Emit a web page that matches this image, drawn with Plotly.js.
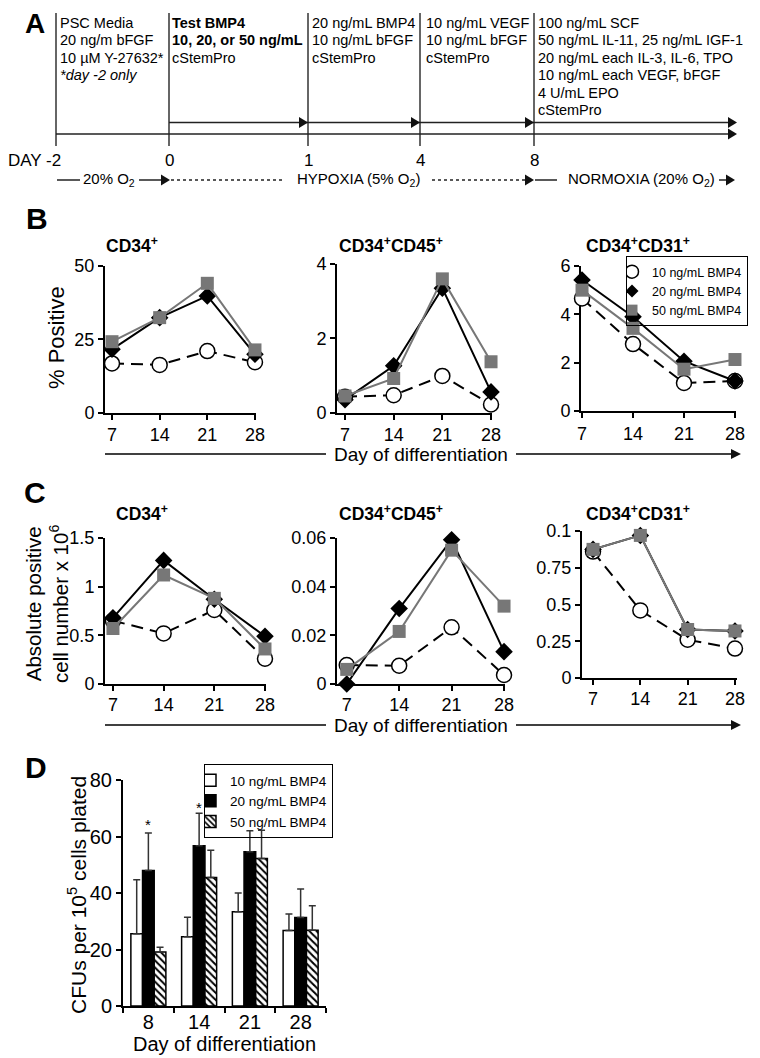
<!DOCTYPE html>
<html><head><meta charset="utf-8">
<script src="https://cdn.plot.ly/plotly-3.0.1.min.js"></script>
<style>html,body{margin:0;padding:0;background:#fff}#chart{width:760px;height:1058px}</style>
</head><body><div id="chart"></div>
<script>
// ---------------- data ----------------
const days = [7, 14, 21, 28];
const seriesNames = ['10 ng/mL BMP4', '20 ng/mL BMP4', '50 ng/mL BMP4'];

// B: % positive
const pctCD34_10 = [16.8, 16.3, 21.0, 17.2];
const pctCD34_20 = [21.6, 32.4, 39.8, 19.9];
const pctCD34_50 = [24.2, 32.4, 44.1, 21.4];
const pctCD45_10 = [0.43, 0.47, 0.99, 0.22];
const pctCD45_20 = [0.35, 1.26, 3.35, 0.56];
const pctCD45_50 = [0.45, 0.92, 3.6, 1.37];
const pctCD31_10 = [4.66, 2.77, 1.16, 1.24];
const pctCD31_20 = [5.42, 3.9, 2.06, 1.24];
const pctCD31_50 = [5.0, 3.42, 1.73, 2.13];

// C: absolute positive cell number x 10^6
const absCD34_10 = [0.65, 0.52, 0.76, 0.26];
const absCD34_20 = [0.68, 1.27, 0.87, 0.49];
const absCD34_50 = [0.57, 1.12, 0.88, 0.36];
const absCD45_10 = [0.0078, 0.0075, 0.0233, 0.0037];
const absCD45_20 = [0.0, 0.031, 0.0593, 0.0133];
const absCD45_50 = [0.006, 0.0216, 0.055, 0.032];
const absCD31_10 = [0.86, 0.46, 0.26, 0.20];
const absCD31_20 = [0.875, 0.97, 0.33, 0.32];
const absCD31_50 = [0.875, 0.97, 0.33, 0.32];
const absCD31TickVals = [0, 0.25, 0.5, 0.75, 1];
const absCD31TickText = ['0', '0.25', '0.5', '0.75', '0.1'];

// D: CFUs per 10^5 cells plated
const cfuDays = ['8', '14', '21', '28'];
const cfu10 = [25.6, 24.5, 33.4, 26.7];
const cfu10Err = [19.1, 6.9, 6.6, 5.9];
const cfu20 = [48.0, 56.7, 54.6, 31.3];
const cfu20Err = [13.2, 11.5, 7.4, 10.1];
const cfu50 = [19.1, 45.5, 52.2, 26.8];
const cfu50Err = [1.7, 9.6, 10.0, 8.7];
const sigDays = ['8', '14'];
const sigY = [65.3, 71.2];

// ---------------- helpers ----------------
const W = 760, H = 1058;
const X = p => p / W, Y = p => 1 - p / H;
const FONT = '"Liberation Sans", Arial, Helvetica, sans-serif';
const GREY = '#777777';

function style10() { return { line: { color: 'black', width: 2, dash: '12px,7px' }, marker: { symbol: 'circle', size: 15, color: 'white', line: { color: 'black', width: 1.5 } } }; }
function style20() { return { line: { color: 'black', width: 2 }, marker: { symbol: 'diamond', size: 13.5, color: 'black', line: { width: 0 } } }; }
function style50() { return { line: { color: GREY, width: 2 }, marker: { symbol: 'square', size: 13, color: GREY, line: { width: 0 } } }; }

const traces = [];
function addSeries(xa, ya, yvals, st, name) {
  traces.push(Object.assign({ x: days, y: yvals, name: name, xaxis: xa, yaxis: ya, type: 'scatter', mode: 'lines+markers',
    showlegend: false, cliponaxis: false, hoverinfo: 'skip' }, st));
}
const panels = [
  ['x', 'y', pctCD34_10, pctCD34_20, pctCD34_50],
  ['x2', 'y2', pctCD45_10, pctCD45_20, pctCD45_50],
  ['x3', 'y3', pctCD31_10, pctCD31_20, pctCD31_50],
  ['x4', 'y4', absCD34_10, absCD34_20, absCD34_50],
  ['x5', 'y5', absCD45_10, absCD45_20, absCD45_50],
  ['x6', 'y6', absCD31_10, absCD31_20, absCD31_50]
];
panels.forEach(p => {
  addSeries(p[0], p[1], p[2], style10(), seriesNames[0]);
  addSeries(p[0], p[1], p[3], style20(), seriesNames[1]);
  addSeries(p[0], p[1], p[4], style50(), seriesNames[2]);
});
// legend entries for panel B (markers only)
[[13, 'circle', 'white', 1.5], [10, 'diamond', 'black', 0], [11, 'square', GREY, 0]].forEach((m, i) => {
  traces.push({ x: [null], y: [null], xaxis: 'x3', yaxis: 'y3', type: 'scatter', mode: 'markers', name: seriesNames[i],
    legend: 'legend', showlegend: true,
    marker: { symbol: m[1], size: m[0], color: m[2], line: { color: 'black', width: m[3] } } });
});

// bars (panel D)
function barTrace(vals, errs, name, marker) {
  return { type: 'bar', x: cfuDays, y: vals, name: name, xaxis: 'x7', yaxis: 'y7', legend: 'legend2', showlegend: true,
    hoverinfo: 'skip', marker: marker,
    error_y: { type: 'data', symmetric: false, array: errs, arrayminus: errs.map(() => 0), color: '#333', thickness: 1.5, width: 3.5 } };
}
traces.push(barTrace(cfu10, cfu10Err, seriesNames[0], { color: 'white', line: { color: 'black', width: 1.5 } }));
traces.push(barTrace(cfu20, cfu20Err, seriesNames[1], { color: 'black', line: { color: 'black', width: 1.5 } }));
traces.push(barTrace(cfu50, cfu50Err, seriesNames[2], { color: 'white', line: { color: 'black', width: 1.5 },
  pattern: { shape: '\\', fgcolor: 'black', bgcolor: 'white', size: 5, solidity: 0.4 } }));

// ---------------- axes ----------------
function ax(x0, x1, range, tickvals, ticktext, anchor, fs) {
  const a = { domain: [X(x0), X(x1)], range: range, anchor: anchor, showline: true, linecolor: 'black', linewidth: 2,
    ticks: 'outside', ticklen: 5, tickwidth: 2, tickcolor: 'black', showgrid: false, zeroline: false,
    tickfont: { family: FONT, size: fs || 18, color: 'black' }, layer: 'below traces', fixedrange: true };
  if (tickvals) { a.tickmode = 'array'; a.tickvals = tickvals; a.ticktext = ticktext || tickvals.map(String); }
  return a;
}
function ay(top, bottom, range, tickvals, ticktext, anchor, fs) {
  const a = ax(0, 1, range, tickvals, ticktext, anchor, fs);
  a.domain = [Y(bottom), Y(top)];
  return a;
}
function axC(x0, x1, range, anchor) {
  return Object.assign(ax(x0, x1, range, days, null, anchor), { ticklabelstandoff: -2 });
}

const layout = {
  width: W, height: H, margin: { l: 0, r: 0, t: 0, b: 0 },
  paper_bgcolor: 'white', plot_bgcolor: 'rgba(0,0,0,0)',
  font: { family: FONT, color: 'black' },
  showlegend: true,
  barmode: 'group', bargap: 0.31, bargroupgap: 0,
  xaxis: ax(105, 256, [5.97, 28.15], days, null, 'y'),
  yaxis: ay(266, 412.7, [0, 50], [0, 25, 50], null, 'x'),
  xaxis2: ax(337, 492, [5.85, 28.14], days, null, 'y2'),
  yaxis2: ay(264, 412.7, [0, 4], [0, 2, 4], null, 'x2'),
  xaxis3: ax(581, 736, [6.86, 28.14], days, null, 'y3'),
  yaxis3: ay(266, 411, [0, 6], [0, 2, 4, 6], null, 'x3'),
  xaxis4: axC(105, 266, [5.9, 28.14], 'y4'),
  yaxis4: ay(538, 684, [0, 1.5], [0, 0.5, 1, 1.5], null, 'x4'),
  xaxis5: axC(337, 505, [5.7, 28.13], 'y5'),
  yaxis5: ay(538, 684, [0, 0.06], [0, 0.02, 0.04, 0.06], null, 'x5'),
  xaxis6: axC(582, 737, [5.37, 28.3], 'y6'),
  yaxis6: ay(531, 678, [0, 1], absCD31TickVals, absCD31TickText, 'x6'),
  xaxis7: Object.assign(ax(123, 326, null, null, null, 'y7', 20), { type: 'category', tickson: 'boundaries', range: [-0.5, 3.5], ticklabelstandoff: -3 }),
  yaxis7: ay(780, 1006, [0, 80], [0, 20, 40, 60, 80], null, 'x7', 20),
  legend: { x: X(748), xanchor: 'right', y: Y(256), yanchor: 'top', bordercolor: 'black', borderwidth: 1,
    bgcolor: 'rgba(255,255,255,0)', font: { family: FONT, size: 12.5, color: 'black' }, indentation: -15, tracegroupgap: 0 },
  legend2: { x: X(204), xanchor: 'left', y: Y(764), yanchor: 'top', bordercolor: 'black', borderwidth: 1,
    bgcolor: 'rgba(255,255,255,0)', font: { family: FONT, size: 13.5, color: 'black' }, indentation: -15, tracegroupgap: 0 },
  shapes: [], annotations: []
};

const shapes = layout.shapes, anns = layout.annotations;
function line(x0, y0, x1, y1, o) {
  shapes.push(Object.assign({ type: 'line', xref: 'paper', yref: 'paper', x0: X(x0), y0: Y(y0), x1: X(x1), y1: Y(y1),
    line: { color: '#222', width: 1.5 } }, o || {}));
}
function tri(x, y, len, half) {
  len = len || 9; half = half || 5.5;
  shapes.push({ type: 'path', xref: 'paper', yref: 'paper', fillcolor: '#111', line: { width: 0 },
    path: `M ${X(x - len)},${Y(y - half)} L ${X(x)},${Y(y)} L ${X(x - len)},${Y(y + half)} Z` });
}
function txt(text, x, y, o) {
  const base = { text: text, x: X(x), y: Y(y), xref: 'paper', yref: 'paper', showarrow: false, xanchor: 'left', yanchor: 'middle',
    font: { family: FONT, size: 14.5, color: 'black' } };
  if (o && o.font) { o.font = Object.assign({}, base.font, o.font); }
  anns.push(Object.assign(base, o || {}));
}

// ---------------- panel A : timeline ----------------
[56, 169, 308, 420, 534].forEach(x => line(x, 13, x, 146, { line: { color: '#333', width: 1.5 } }));
line(56, 134, 730, 134); tri(737, 134);
line(169, 122.5, 730, 122.5);
[308, 420, 534, 737].forEach(x => tri(x, 122.5));

const colTexts = [
  [60, ['PSC Media', '20 ng/m bFGF', '10 µM Y-27632*', '<i>*day -2 only</i>']],
  [172, ['<b>Test BMP4</b>', '<b>10, 20, or 50 ng/mL</b>', 'cStemPro']],
  [312, ['20 ng/mL BMP4', '10 ng/mL bFGF', 'cStemPro']],
  [426, ['10 ng/mL VEGF', '10 ng/mL bFGF', 'cStemPro']],
  [538, ['100 ng/mL SCF', '50 ng/mL IL-11, 25 ng/mL IGF-1', '20 ng/mL each IL-3, IL-6, TPO', '10 ng/mL each VEGF, bFGF', '4 U/mL EPO', 'cStemPro']]
];
colTexts.forEach(c => c[1].forEach((t, i) => txt(t, c[0] - 2, 22.5 + i * 17.6)));

txt('DAY -2', 6, 160, { font: { size: 17 } });
[[169, '0'], [308, '1'], [420, '4'], [534, '8']].forEach(d => txt(d[1], d[0], 160, { xanchor: 'center', font: { size: 17 } }));

// oxygen row
const oy = 180;
line(57, oy, 80, oy); txt('20% O<sub>2</sub>', 109, oy, { xanchor: 'center', font: { size: 15 } });
line(139, oy, 162, oy); tri(170, oy);
line(171, oy, 285, oy, { line: { color: '#222', width: 1.5, dash: 'dot' } });
txt('HYPOXIA (5% O<sub>2</sub>)', 358, oy, { xanchor: 'center', font: { size: 15 } });
line(432, oy, 526, oy, { line: { color: '#222', width: 1.5, dash: 'dot' } }); tri(534, oy);
line(535, oy, 557, oy);
txt('NORMOXIA (20% O<sub>2</sub>)', 641, oy, { xanchor: 'center', font: { size: 15 } });
line(719, oy, 728, oy); tri(735, oy);

// panel letters
[['A', 35, 24, 28], ['B', 37, 219, 30], ['C', 35, 492, 30], ['D', 36, 767, 30]].forEach(l =>
  txt('<b>' + l[0] + '</b>', l[1], l[2], { xanchor: 'center', font: { size: l[3] } }));

// subplot titles
const tB = 245, tC = 513;
[['CD34<sup>+</sup>', 104, tB], ['CD34<sup>+</sup>CD45<sup>+</sup>', 337, tB], ['CD34<sup>+</sup>CD31<sup>+</sup>', 584, tB],
 ['CD34<sup>+</sup>', 114, tC], ['CD34<sup>+</sup>CD45<sup>+</sup>', 337, tC], ['CD34<sup>+</sup>CD31<sup>+</sup>', 584, tC]]
  .forEach(t => txt('<b>' + t[0] + '</b>', t[1], t[2], { font: { size: 17.5 } }));

// y titles
txt('% Positive', 57, 338, { xanchor: 'center', textangle: -90, font: { size: 22 } });
txt('Absolute positive<br>cell number x 10<sup>6</sup>', 47, 604, { xanchor: 'center', textangle: -90, font: { size: 20.5 } });
txt('CFUs per 10<sup>5</sup> cells plated', 77, 895, { xanchor: 'center', textangle: -90, font: { size: 21 } });

// "Day of differentiation" arrows for B and C
[454, 725].forEach(yy => {
  line(105, yy, 326, yy, { line: { color: 'black', width: 1.5 } });
  txt('Day of differentiation', 421, yy, { xanchor: 'center', font: { size: 19 } });
  line(516, yy, 733, yy, { line: { color: 'black', width: 1.5 } });
  tri(741, yy, 10, 5);
});

// D x title
txt('Day of differentiation', 225, 1044, { xanchor: 'center', font: { size: 20 } });

// significance asterisks (D), placed on the category index of the day
sigDays.forEach((d, i) => anns.push({ text: '*', x: cfuDays.indexOf(d), y: sigY[i], xref: 'x7', yref: 'y7', showarrow: false,
  xanchor: 'center', yanchor: 'middle', yshift: -3, font: { family: FONT, size: 15, color: 'black' } }));

Plotly.newPlot('chart', traces, layout, { staticPlot: true, displayModeBar: false });
</script>
</body></html>
